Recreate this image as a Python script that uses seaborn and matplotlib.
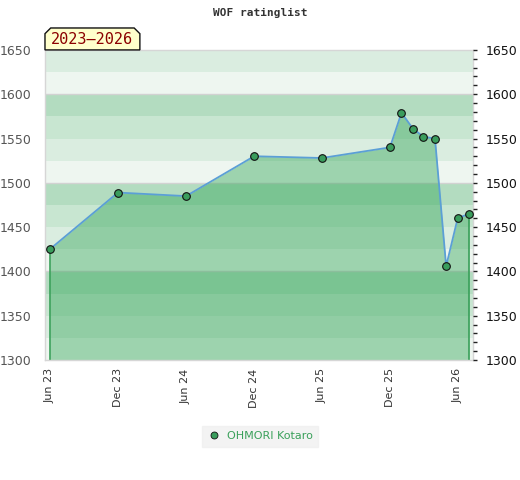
import pandas as pd
import matplotlib
matplotlib.use("Agg")
import matplotlib.pyplot as plt
import matplotlib.dates as mdates
from matplotlib.patches import Polygon
from matplotlib.lines import Line2D
from matplotlib.ticker import MultipleLocator
import seaborn as sns

# rating history (first of month)
dates = ["2023-06-01", "2023-12-01", "2024-06-01", "2024-12-01", "2025-06-01",
         "2025-12-01", "2026-01-01", "2026-02-01", "2026-03-01", "2026-04-01",
         "2026-05-01", "2026-06-01", "2026-07-01"]
ratings = [1425, 1489, 1485, 1530, 1528, 1540, 1579, 1561, 1552, 1550, 1406, 1460, 1465]
player = "OHMORI Kotaro"
period_label = "2023\u20132026"
chart_title = "WOF ratinglist"
tick_dates = ["2023-06-01", "2023-12-01", "2024-06-01", "2024-12-01",
              "2025-06-01", "2025-12-01", "2026-06-01"]

df = pd.DataFrame({"date": pd.to_datetime(dates), "rating": ratings})

sns.set_theme(style="white")
plt.rcParams['font.family'] = ['DejaVu Sans']

fig = plt.figure(figsize=(5.2, 4.8), dpi=100)
ax = fig.add_axes([0.0865, 0.25, 0.823, 0.646])

y_min, y_max = 1300, 1650
band_colors = ["#eef6f0", "#daede0", "#c8e6d1", "#b3dcc0"]  # bottom -> top within each 100
for i, lo in enumerate(range(y_min, y_max, 25)):
    ax.axhspan(lo, lo + 25, color=band_colors[i % 4], lw=0, zorder=0)
for lv in range(1400, y_max, 100):
    ax.axhline(lv, color="#d2d2d2", lw=1, zorder=0.5)

fill_green = "#2da353"
ax.fill_between(df["date"], df["rating"], y_min, color=fill_green, alpha=0.42, lw=0, zorder=1)
ax.vlines([df["date"].iloc[0], df["date"].iloc[-1]], y_min,
          [df["rating"].iloc[0], df["rating"].iloc[-1]], color="#3aa05a", lw=1.2, zorder=2)
sns.lineplot(data=df, x="date", y="rating", ax=ax, color="#5b9fd6", lw=1.3, zorder=3,
             marker="o", markersize=5.5, markerfacecolor="#3a9d5d",
             markeredgecolor="#111111", markeredgewidth=0.8)

ax.set_ylim(y_min, y_max)
ax.set_xlim(pd.Timestamp("2023-05-19"), pd.Timestamp("2026-07-12"))
ax.set_xlabel("")
ax.set_ylabel("")
ax.set_xticks(pd.to_datetime(tick_dates))
ax.xaxis.set_major_formatter(mdates.DateFormatter("%b %y"))
ax.tick_params(axis="x", rotation=90, labelsize=8, colors="#333333", length=0, pad=6)
ax.yaxis.set_major_locator(MultipleLocator(50))
ax.tick_params(axis="y", labelsize=9, labelcolor="#555555", length=0, pad=10)
for s in ax.spines.values():
    s.set_color("#d6d6d6")
    s.set_linewidth(1)

ax2 = ax.twinx()
ax2.set_ylim(y_min, y_max)
ax2.yaxis.set_major_locator(MultipleLocator(50))
ax2.yaxis.set_minor_locator(MultipleLocator(10))
ax2.tick_params(axis="y", which="both", direction="out", length=3, width=1,
                color="#222222", labelsize=9, labelcolor="#111111", pad=6)
for s in ax2.spines.values():
    s.set_visible(False)

fig.text(0.5, 0.972, chart_title, ha="center", va="center", fontsize=8,
         fontweight="bold", family="DejaVu Sans Mono", color="#333333")

# period tag with clipped top corners
x0, x1, yb, yt, c = 0.0865, 0.269, 0.896, 0.9417, 0.011
tag = Polygon([(x0, yb), (x0, yt - c * 1.08), (x0 + c, yt), (x1 - c, yt),
               (x1, yt - c * 1.08), (x1, yb)], closed=True, transform=fig.transFigure,
              facecolor="#ffffcc", edgecolor="#111111", lw=1, zorder=5)
fig.patches.append(tag)
fig.text((x0 + x1) / 2, (yb + yt) / 2 - 0.002, period_label, ha="center", va="center",
         fontsize=11, color="#8b0000", family="DejaVu Sans Mono", zorder=6)

handle = Line2D([], [], ls="none", marker="o", markersize=5, markerfacecolor="#3a9d5d",
                markeredgecolor="#111111", markeredgewidth=0.6)
leg = fig.legend([handle], [player], loc="center", bbox_to_anchor=(0.5, 0.091),
                 frameon=True, fontsize=8, handletextpad=0.6, borderpad=0.5,
                 fancybox=False, handlelength=1.2)
leg.get_frame().set_facecolor("#f0f0f0")
leg.get_frame().set_edgecolor("#f0f0f0")
for t in leg.get_texts():
    t.set_color("#3aa05a")

fig.savefig("out.png", dpi=100)
